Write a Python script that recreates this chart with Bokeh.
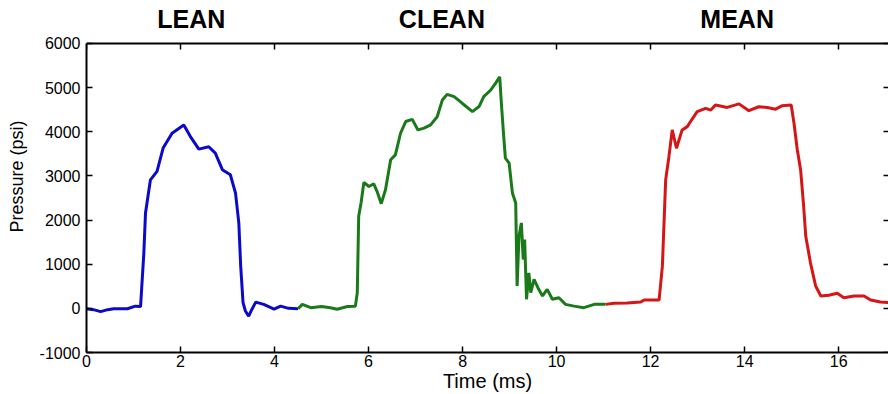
from bokeh.plotting import figure
from bokeh.models import (LinearAxis, Range1d, FixedTicker, PrintfTickFormatter,
                          CustomLabelingPolicy)
from bokeh.core.properties import value
from bokeh.embed import file_html
from bokeh.resources import INLINE

# ---- data ----
lean_t = [0.00, 0.15, 0.30, 0.45, 0.58, 0.75, 0.87, 1.04, 1.15, 1.22, 1.255, 1.36, 1.50, 1.63,
          1.82, 2.07, 2.21, 2.39, 2.60, 2.74, 2.89, 3.06, 3.17, 3.24, 3.28, 3.33, 3.38, 3.45,
          3.52, 3.60, 3.77, 3.99, 4.13, 4.30, 4.50]
lean_p = [-10, -30, -75, -30, -10, -10, -10, 50, 40, 1257, 2160, 2910, 3100, 3630,
          3965, 4150, 3890, 3605, 3660, 3515, 3140, 3025, 2610, 1935, 955, 130, -60, -175,
          -20, 140, 90, -20, 50, 0, -10]

clean_t = [4.50, 4.59, 4.77, 5.00, 5.19, 5.33, 5.55, 5.72, 5.76, 5.79, 5.84, 5.90, 6.01, 6.11,
           6.18, 6.27, 6.36, 6.47, 6.57, 6.68, 6.79, 6.93, 7.05, 7.18, 7.32, 7.46, 7.57, 7.67,
           7.82, 7.99, 8.21, 8.35, 8.45, 8.60, 8.70, 8.79, 8.82, 8.87, 8.91, 8.99, 9.06, 9.13,
           9.16, 9.20, 9.25, 9.29, 9.32, 9.36, 9.41, 9.45, 9.52, 9.62, 9.70, 9.80, 9.91, 10.05,
           10.19, 10.37, 10.58, 10.80, 11.04]
clean_p = [-10, 90, 15, 40, 15, -20, 40, 50, 355, 2085, 2385, 2850, 2760, 2820,
           2650, 2370, 2685, 3365, 3475, 3965, 4230, 4280, 4040, 4080, 4155, 4340, 4720, 4845,
           4795, 4645, 4455, 4570, 4795, 4945, 5095, 5245, 4720, 3965, 3400, 3290, 2610, 2385,
           505, 1630, 1935, 1105, 1560, 205, 805, 355, 655, 430, 280, 430, 205, 240,
           90, 50, 15, 90, 90]

mean_t = [11.04, 11.22, 11.50, 11.79, 11.86, 12.18, 12.25, 12.32, 12.39, 12.46, 12.55, 12.67,
          12.78, 12.85, 12.99, 13.17, 13.28, 13.38, 13.63, 13.88, 14.09, 14.30, 14.48, 14.66,
          14.80, 14.99, 15.05, 15.12, 15.19, 15.25, 15.30, 15.40, 15.51, 15.62, 15.79, 15.97,
          16.11, 16.33, 16.54, 16.68, 16.89, 17.06]
mean_p = [90, 113, 120, 142, 187, 187, 955, 2910, 3440, 4040, 3625, 4040,
          4115, 4230, 4455, 4530, 4490, 4605, 4550, 4630, 4475, 4565, 4550, 4510,
          4590, 4605, 4190, 3590, 3140, 2385, 1630, 1030, 505, 280, 295, 340,
          240, 280, 280, 190, 145, 130]

titles = ["LEAN", "CLEAN", "MEAN"]
title_x = [2.23, 7.56, 13.84]

x_ticks = [0, 2, 4, 6, 8, 10, 12, 14, 16]
y_ticks = [-1000, 0, 1000, 2000, 3000, 4000, 5000, 6000]

X_MAX = 17.06
Y_MIN, Y_TOP, Y_MAX = -1000, 6000, 6971   # frame extends above the box for the titles

FONT = "Liberation Sans"

p = figure(width=888, height=394, output_backend="svg", toolbar_location=None,
           x_range=Range1d(0, X_MAX), y_range=Range1d(Y_MIN, Y_MAX),
           min_border_left=86, min_border_right=0, min_border_top=0, min_border_bottom=41,
           x_axis_label="Time (ms)", y_axis_label="Pressure (psi)")
p.outline_line_color = None
p.grid.visible = False
p.background_fill_color = "white"
p.border_fill_color = "white"

for ax in (p.xaxis[0], p.yaxis[0]):
    ax.axis_line_width = 2
    ax.axis_line_color = "black"
    ax.major_tick_in = 6
    ax.major_tick_out = 0
    ax.major_tick_line_width = 1.5
    ax.minor_tick_line_color = None
    ax.major_label_text_font = FONT
    ax.major_label_text_font_size = "16px"
    ax.major_label_text_color = "black"
    ax.axis_label_text_font = FONT
    ax.axis_label_text_font_style = "normal"
    ax.axis_label_text_color = "black"

p.xaxis[0].ticker = FixedTicker(ticks=x_ticks)
p.yaxis[0].ticker = FixedTicker(ticks=y_ticks)
p.yaxis[0].formatter = PrintfTickFormatter(format="%d")
p.yaxis[0].bounds = (Y_MIN, Y_TOP)
p.xaxis[0].major_label_standoff = 2
p.xaxis[0].axis_label_standoff = 0
p.xaxis[0].axis_label_text_font_size = "20px"
p.yaxis[0].major_label_standoff = 6
p.yaxis[0].axis_label_standoff = 10
p.yaxis[0].axis_label_text_font_size = "18px"

hide_all = CustomLabelingPolicy(code="""
for (const i of indices) { indices.unset(i) }
return indices
""")

top = LinearAxis(ticker=FixedTicker(ticks=x_ticks), fixed_location=Y_TOP,
                 major_label_policy=hide_all, major_tick_in=6, major_tick_out=0,
                 minor_tick_line_color=None, axis_line_width=2, major_tick_line_width=1.5)
p.add_layout(top, "above")
right = LinearAxis(ticker=FixedTicker(ticks=y_ticks), fixed_location=X_MAX, bounds=(Y_MIN, Y_TOP),
                   major_label_policy=hide_all, major_tick_in=5, major_tick_out=0,
                   minor_tick_line_color=None, axis_line_color=None, major_tick_line_width=1.5)
p.add_layout(right, "right")

p.line(lean_t, lean_p, line_color="#0a0ac8", line_width=3)
p.line(clean_t, clean_p, line_color="#1a7a1a", line_width=3)
p.line(mean_t, mean_p, line_color="#d41616", line_width=3)

p.text(x=title_x, y=[Y_TOP] * len(titles), text=titles, y_offset=-10,
       text_align="center", text_baseline="bottom", text_font=value(FONT),
       text_font_size="25px", text_font_style="bold", text_color="black")

open("out.html", "w").write(file_html(p, INLINE))
